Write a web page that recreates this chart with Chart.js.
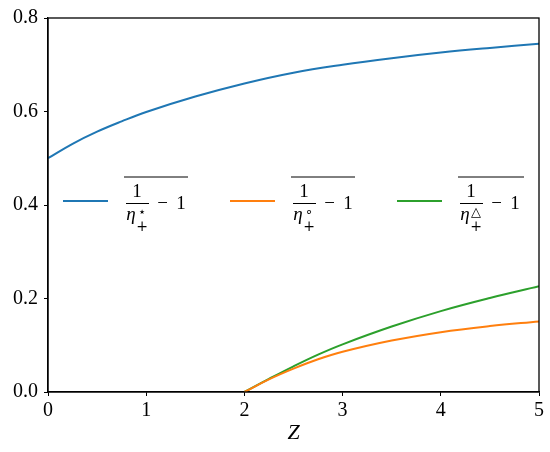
<!DOCTYPE html>
<html>
<head>
<meta charset="utf-8">
<script src="https://cdn.jsdelivr.net/npm/chart.js@4.4.0/dist/chart.umd.min.js"></script>
<style>
  html, body { margin: 0; padding: 0; background: #fff; }
  #wrap { width: 550px; height: 452px; position: relative; }
</style>
</head>
<body>
<div id="wrap"><canvas id="chart"></canvas></div>
<script>
// values
const zStar = [0, 0.25, 0.5, 0.75, 1, 1.5, 2, 2.5, 3, 3.5, 4, 4.5, 5];
const starValues = [0.500, 0.531, 0.557, 0.579, 0.599, 0.632, 0.660, 0.683, 0.700, 0.714, 0.726, 0.736, 0.745];

const zCircTri = [2, 2.25, 2.5, 2.75, 3, 3.5, 4, 4.5, 5];
const circValues = [0, 0.027, 0.050, 0.070, 0.086, 0.110, 0.128, 0.141, 0.151];
const triValues = [0, 0.028, 0.055, 0.080, 0.102, 0.140, 0.173, 0.201, 0.226];

const seriesColors = ['#1f77b4', '#ff7f0e', '#2ca02c'];
const seriesMarks = ['\u22C6', '\u2218', '\u25B3'];

const serif = '"Liberation Serif", "DejaVu Serif", serif';

function toPoints(xs, ys) {
    return xs.map((x, i) => ({ x: x, y: ys[i] }));
}

// draws the box round the plot and the math legend
const boxAndLegend = {
    id: 'boxAndLegend',
    afterDraw(chart) {
        const ctx = chart.ctx;
        const a = chart.chartArea;
        ctx.save();
        ctx.strokeStyle = '#000';
        ctx.lineWidth = 1.3;
        ctx.strokeRect(a.left, a.top, a.right - a.left, a.bottom - a.top);

        const yMid = chart.scales.y.getPixelForValue(0.4) - 4;
        for (let i = 0; i < 3; i++) {
            const x0 = a.left + 15 + 167 * i;
            ctx.strokeStyle = seriesColors[i];
            ctx.lineWidth = 2;
            ctx.beginPath();
            ctx.moveTo(x0, yMid);
            ctx.lineTo(x0 + 45, yMid);
            ctx.stroke();

            ctx.fillStyle = '#000';
            ctx.strokeStyle = '#000';
            ctx.lineWidth = 1;
            // fraction
            ctx.beginPath();
            ctx.moveTo(x0 + 63, yMid + 2.5);
            ctx.lineTo(x0 + 86, yMid + 2.5);
            ctx.stroke();
            ctx.textAlign = 'center';
            ctx.textBaseline = 'alphabetic';
            ctx.font = '19px ' + serif;
            ctx.fillText('1', x0 + 74, yMid - 4);
            ctx.font = 'italic 19px ' + serif;
            ctx.fillText('\u03B7', x0 + 68, yMid + 19);
            ctx.textBaseline = 'middle';
            ctx.font = '13px "DejaVu Sans", sans-serif';
            ctx.fillText(seriesMarks[i], x0 + 79, yMid + 12);
            ctx.font = '14px "DejaVu Serif", serif';
            ctx.fillText('+', x0 + 79, yMid + 26);
            // minus one
            ctx.textBaseline = 'alphabetic';
            ctx.font = '19px ' + serif;
            ctx.fillText('\u2212', x0 + 99.5, yMid + 8);
            ctx.fillText('1', x0 + 118, yMid + 8);
            // root bar
            const barEnd = i === 2 ? x0 + 127 : x0 + 125;
            ctx.beginPath();
            ctx.moveTo(x0 + 61, yMid - 24);
            ctx.lineTo(barEnd, yMid - 24);
            ctx.stroke();
        }
        ctx.restore();
    }
};

const ctx = document.getElementById('chart').getContext('2d');
new Chart(ctx, {
    type: 'line',
    data: {
        datasets: [
            { label: 'star', data: toPoints(zStar, starValues), borderColor: seriesColors[0] },
            { label: 'circ', data: toPoints(zCircTri, circValues), borderColor: seriesColors[1] },
            { label: 'tri', data: toPoints(zCircTri, triValues), borderColor: seriesColors[2] }
        ]
    },
    options: {
        responsive: true,
        maintainAspectRatio: false,
        animation: false,
        layout: { padding: { top: 16, right: 11, left: 0, bottom: 0 } },
        elements: {
            point: { radius: 0 },
            line: { borderWidth: 2, tension: 0.4, fill: false }
        },
        plugins: {
            legend: { display: false },
            tooltip: { enabled: false }
        },
        scales: {
            x: {
                type: 'linear',
                min: 0,
                max: 5,
                afterFit: (scale) => { scale.height = 60; },
                ticks: { stepSize: 1, color: '#000', font: { family: serif, size: 20 }, padding: 3, maxRotation: 0 },
                grid: { display: true, drawOnChartArea: false, drawTicks: true, tickLength: 4, color: '#000' },
                border: { display: true, color: '#000', width: 1.3 },
                title: { display: true, text: 'Z', color: '#000', font: { family: serif, size: 22, style: 'italic' }, padding: { top: 0, bottom: 6 } }
            },
            y: {
                min: 0,
                max: 0.8,
                afterFit: (scale) => { scale.width = 48; },
                ticks: { stepSize: 0.2, color: '#000', font: { family: serif, size: 20 }, padding: 6, callback: (v) => v.toFixed(1) },
                grid: { display: true, drawOnChartArea: false, drawTicks: true, tickLength: 4, color: '#000' },
                border: { display: true, color: '#000', width: 1.3 }
            }
        }
    },
    plugins: [boxAndLegend]
});
</script>
</body>
</html>
